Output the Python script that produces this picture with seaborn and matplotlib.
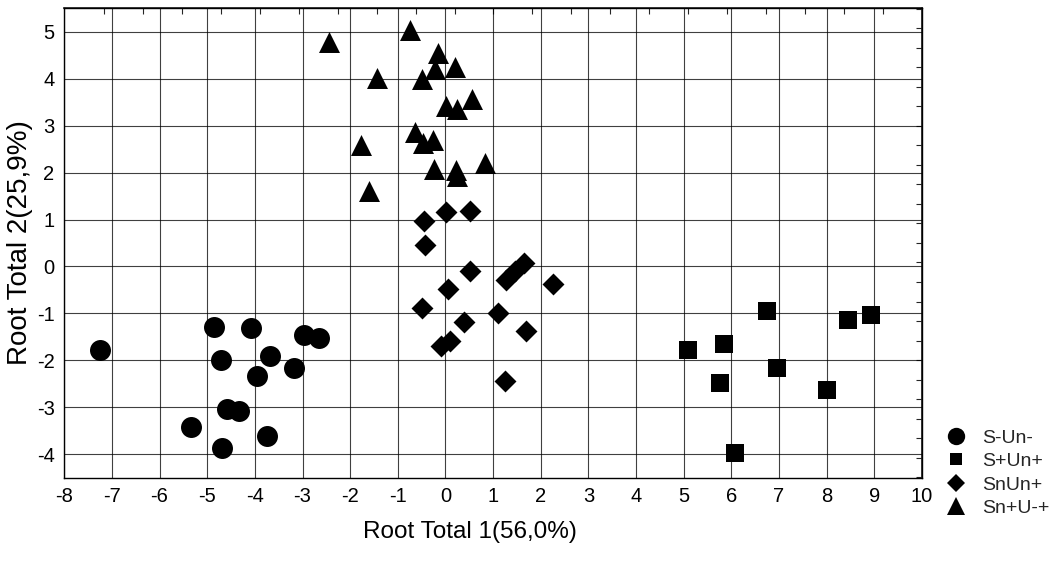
import numpy as np
import pandas as pd
import matplotlib
matplotlib.use("Agg")
import matplotlib.pyplot as plt
from matplotlib.lines import Line2D
from matplotlib.ticker import MultipleLocator
import seaborn as sns

# Group labels (legend order)
GROUPS = ["S-Un-", "S+Un+", "SnUn+", "Sn+U-+"]

# S-Un- (circles)
s_un_minus_x = [-7.25, -4.85, -4.08, -4.71, -3.68, -2.97, -2.66, -3.96, -3.18, -4.59, -4.33, -5.34, -3.75, -4.69]
s_un_minus_y = [-1.78, -1.30, -1.31, -2.00, -1.90, -1.46, -1.53, -2.33, -2.17, -3.04, -3.08, -3.43, -3.61, -3.87]

# S+Un+ (squares)
s_un_plus_x = [6.74, 8.45, 8.94, 5.10, 5.85, 6.96, 5.76, 8.00, 6.08]
s_un_plus_y = [-0.95, -1.14, -1.03, -1.78, -1.65, -2.17, -2.49, -2.63, -3.98]

# SnUn+ (diamonds)
sn_un_plus_x = [-0.45, 0.02, 0.52, -0.43, 0.52, 0.06, -0.50, 0.39, 1.10, 1.70, 2.25,
                -0.09, 0.10, 1.24, 1.28, 1.45, 1.64]
sn_un_plus_y = [0.97, 1.17, 1.19, 0.45, -0.09, -0.49, -0.88, -1.19, -0.99, -1.37, -0.37,
                -1.69, -1.59, -2.45, -0.28, -0.10, 0.08]

# Sn+U-+ (triangles)
sn_u_x = [-2.44, -0.75, -0.15, -0.21, 0.21, -0.50, -1.43, 0.56, 0.02, 0.24,
          -0.64, -0.47, -0.26, -1.77, 0.83, -0.24, 0.22, 0.25, -1.60]
sn_u_y = [4.78, 5.04, 4.55, 4.21, 4.24, 4.00, 4.02, 3.56, 3.41, 3.36,
          2.87, 2.62, 2.69, 2.58, 2.20, 2.07, 2.06, 1.93, 1.60]

MARKERS = {"S-Un-": "o", "S+Un+": "s", "SnUn+": "D", "Sn+U-+": "^"}
SIZES = {"S-Un-": 228, "S+Un+": 150, "SnUn+": 125, "Sn+U-+": 228}
LEGEND_MS = {"S-Un-": 12.5, "S+Un+": 8.5, "SnUn+": 9, "Sn+U-+": 13}


def build_frame() -> pd.DataFrame:
    parts = [
        (GROUPS[0], s_un_minus_x, s_un_minus_y),
        (GROUPS[1], s_un_plus_x, s_un_plus_y),
        (GROUPS[2], sn_un_plus_x, sn_un_plus_y),
        (GROUPS[3], sn_u_x, sn_u_y),
    ]
    frames = [pd.DataFrame({"root1": xs, "root2": ys, "group": g}) for g, xs, ys in parts]
    return pd.concat(frames, ignore_index=True)


def main():
    df = build_frame()

    sns.set_theme(style="white")
    plt.rcParams["font.family"] = ["Liberation Sans", "DejaVu Sans"]
    plt.rcParams["axes.unicode_minus"] = False

    fig = plt.figure(figsize=(10.55, 5.61), dpi=100)
    ax = fig.add_axes([0.0609, 0.1485, 0.813, 0.8367])

    for g in GROUPS:
        sns.scatterplot(
            data=df[df["group"] == g], x="root1", y="root2",
            marker=MARKERS[g], s=SIZES[g], color="black", linewidth=0,
            legend=False, ax=ax, zorder=3,
        )

    ax.set_xlim(-8, 10)
    ax.set_ylim(-4.5, 5.5)
    ax.set_xticks(range(-8, 11))
    ax.set_yticks(range(-4, 6))
    ax.xaxis.set_minor_locator(MultipleLocator(0.25))
    ax.yaxis.set_minor_locator(MultipleLocator(0.25))
    ax.grid(True, which="major", color="black", linewidth=0.8, alpha=0.75)
    ax.tick_params(which="major", direction="in", length=4, width=0.8,
                   labelsize=14.5, colors="black", pad=7)
    ax.tick_params(which="minor", direction="in", length=3, width=0.8)
    for sp in ax.spines.values():
        sp.set_color("black")
        sp.set_linewidth(1.0)

    # extra inward ticks on the top and right frame
    top = ax.secondary_xaxis("top")
    top.set_xticks(np.arange(-7.167, 10, 0.8175))
    top.tick_params(direction="in", length=4, width=0.8, labeltop=False)
    right = ax.secondary_yaxis("right")
    right.set_yticks(np.arange(-4.488, 5.5, 0.4157))
    right.tick_params(direction="in", length=4, width=0.8, labelright=False)

    ax.set_xlabel("Root Total 1(56,0%)", fontsize=17.5, color="black")
    ax.set_ylabel("Root Total 2(25,9%)", fontsize=20, color="black")
    ax.xaxis.set_label_coords(0.473, -0.092)
    ax.yaxis.set_label_coords(-0.036, 0.5)

    handles = [
        Line2D([], [], linestyle="none", marker=MARKERS[g], markersize=LEGEND_MS[g],
               markerfacecolor="black", markeredgewidth=0, label=g)
        for g in GROUPS
    ]
    ax.legend(handles=handles, loc="center left", bbox_to_anchor=(1.027, 0.01),
              frameon=False, fontsize=14, handlelength=1.1, handletextpad=0.8,
              labelspacing=0.3, borderpad=0, borderaxespad=0)

    fig.savefig("out.png", dpi=100)


if __name__ == "__main__":
    main()
